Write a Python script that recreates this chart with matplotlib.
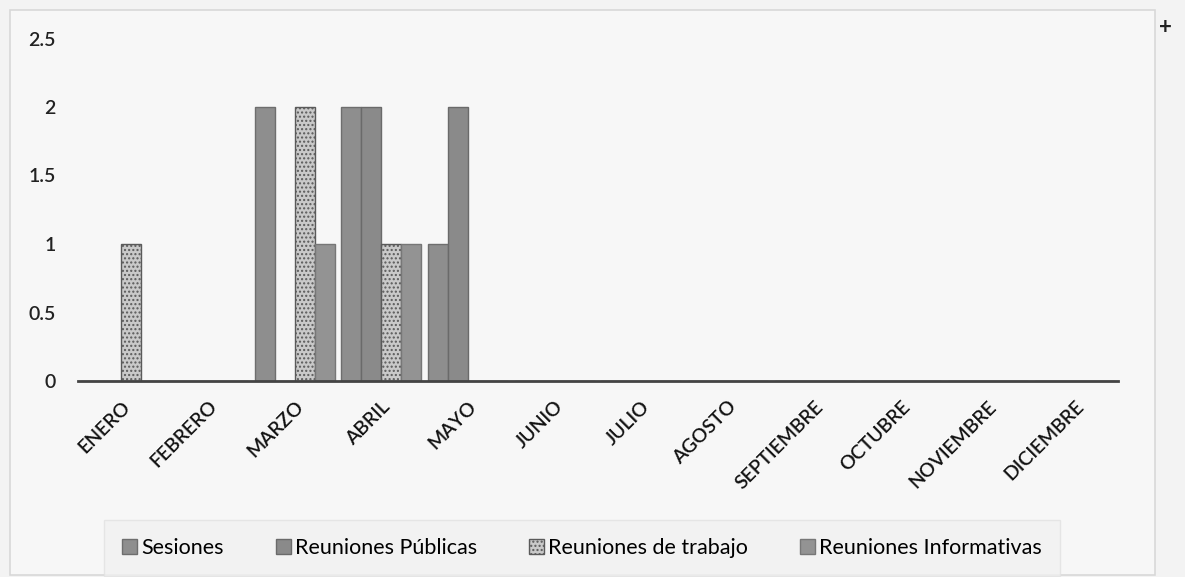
import matplotlib
matplotlib.use("Agg")
import matplotlib.pyplot as plt
import numpy as np
from matplotlib.patches import Rectangle

months = ["ENERO", "FEBRERO", "MARZO", "ABRIL", "MAYO", "JUNIO", "JULIO",
          "AGOSTO", "SEPTIEMBRE", "OCTUBRE", "NOVIEMBRE", "DICIEMBRE"]
series_names = ["Sesiones", "Reuniones Públicas", "Reuniones de trabajo", "Reuniones Informativas"]
sesiones = [0, 0, 2, 2, 1, 0, 0, 0, 0, 0, 0, 0]
publicas = [0, 0, 0, 2, 2, 0, 0, 0, 0, 0, 0, 0]
trabajo = [1, 0, 2, 1, 0, 0, 0, 0, 0, 0, 0, 0]
informativas = [0, 0, 1, 1, 0, 0, 0, 0, 0, 0, 0, 0]
yticks = [0, 0.5, 1, 1.5, 2, 2.5]
ytick_labels = ["0", "0.5", "1", "1.5", "2", "2.5"]

plt.rcParams['font.family'] = ['Lato', 'DejaVu Sans']
plt.rcParams['hatch.color'] = '#555555'

fig = plt.figure(figsize=(11.85, 5.77), dpi=100)
fig.patch.set_facecolor('#f3f3f3')
# outer chart border
fig.patches.append(Rectangle((10/1185, 2/577), 1145/1185, 565/577, transform=fig.transFigure,
                             facecolor='#f7f7f7', edgecolor='#d8d8d8', lw=1.2, zorder=-10))
ax = fig.add_axes([78/1185, (577-381)/577, 1040/1185, 342.5/577])
ax.set_facecolor('none')
ax.set_zorder(2)

x = np.arange(len(months))
w = 0.23
offsets = [-1.5*w, -0.5*w, 0.5*w, 1.5*w]
data = [sesiones, publicas, trabajo, informativas]
faces = ['#8e8e8e', '#8a8a8a', '#c9c9c9', '#939393']
edges = ['#6e6e6e', '#6a6a6a', '#5a5a5a', '#777777']
hatches = [None, None, '....', None]
for vals, off, fc, ec, h, name in zip(data, offsets, faces, edges, hatches, series_names):
    ax.bar(x + off, vals, width=w, color=fc, edgecolor=ec, linewidth=1.0, hatch=h, label=name, zorder=2)

ax.set_xlim(-0.5, len(months) - 0.5)
ax.set_ylim(0, 2.5)
ax.set_yticks(yticks)
ax.set_yticklabels(ytick_labels, fontsize=14, color='#222222', fontweight='semibold')
ax.set_xticks(x)
ax.set_xticklabels(months, rotation=45, ha='right', rotation_mode='anchor', fontsize=14,
                   color='#111111', fontweight='semibold')
ax.tick_params(axis='both', length=0)
ax.tick_params(axis='y', pad=16)
ax.tick_params(axis='x', pad=12)
for s in ['top', 'right', 'left']:
    ax.spines[s].set_visible(False)
ax.spines['bottom'].set_color('#444444')
ax.spines['bottom'].set_linewidth(2)
ax.spines['bottom'].set_zorder(3)

leg = fig.legend(loc='center', bbox_to_anchor=(582/1185, 1 - 548/577), ncol=4, frameon=True,
                 fontsize=15.5, handlelength=0.7, handleheight=0.7, handletextpad=0.2,
                 columnspacing=2.4, borderpad=0.55, borderaxespad=0)
leg.get_frame().set_facecolor('#f1f1f1')
leg.get_frame().set_edgecolor('#e2e2e2')
leg.get_frame().set_boxstyle('square')

fig.text(1165/1185, 1 - 28/577, '+', fontsize=16, ha='center', va='center', color='#222222',
         fontweight='bold')

fig.savefig('out.png', dpi=100, facecolor=fig.get_facecolor())
